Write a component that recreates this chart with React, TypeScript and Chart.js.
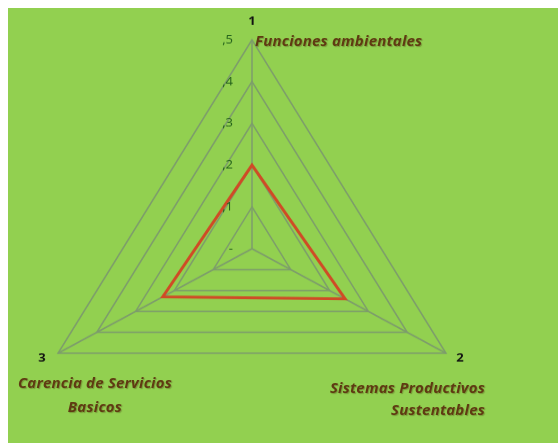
import React, { useEffect, useRef } from "react";
import { Chart, registerables } from "chart.js";

Chart.register(...registerables);

// ---- data ----
const categories = ["1", "2", "3"];
const seriesValues = [0.2, 0.24, 0.23];
const tickValues = [0, 0.1, 0.2, 0.3, 0.4, 0.5];
const tickLabels = ["-", ",1", ",2", ",3", ",4", ",5"];
const axisNameTop = ["Funciones ambientales"];
const axisNameRight = ["Sistemas Productivos", "Sustentables"];
const axisNameLeft = ["Carencia de Servicios", "Basicos"];

const BG = "#92d050";
const GRID = "#7d9c6c";
const RED = "#cf4b26";
const NAME_COLOR = "#5f3a12";

const labelsPlugin = {
  id: "customLabels",
  afterDraw(chart: any) {
    const scale = chart.scales.r;
    const ctx = chart.ctx as CanvasRenderingContext2D;
    ctx.save();
    // tick labels, left of the vertical axis
    ctx.font = "13px 'Open Sans'";
    ctx.fillStyle = "#22601a";
    ctx.textAlign = "right";
    ctx.textBaseline = "middle";
    tickValues.forEach((v, i) => {
      const d = scale.getDistanceFromCenterForValue(v);
      ctx.fillText(tickLabels[i], scale.xCenter - 19, scale.yCenter - d);
    });
    // point labels
    const offsets = [
      [0, -20],
      [14, 5],
      [-16, 5],
    ];
    ctx.font = "bold 13px 'Open Sans'";
    ctx.fillStyle = "#111111";
    ctx.textAlign = "center";
    categories.forEach((c, i) => {
      const p = scale.getPointPositionForValue(i, scale.max);
      ctx.fillText(c, p.x + offsets[i][0], p.y + offsets[i][1]);
    });
    ctx.restore();
  },
};

export default function App() {
  const ref = useRef<HTMLCanvasElement | null>(null);

  useEffect(() => {
    if (!ref.current) return;
    const chart = new Chart(ref.current, {
      type: "radar",
      data: {
        labels: categories,
        datasets: [
          {
            data: seriesValues,
            borderColor: RED,
            borderWidth: 3,
            fill: false,
            pointRadius: 0,
            pointHoverRadius: 0,
          },
        ],
      },
      options: {
        responsive: false,
        animation: false,
        layout: { padding: { left: 20, right: 82, top: 34, bottom: 0 } },
        plugins: { legend: { display: false }, tooltip: { enabled: false } },
        scales: {
          r: {
            min: 0,
            max: 0.5,
            ticks: { stepSize: 0.1, display: false, showLabelBackdrop: false },
            pointLabels: { display: false },
            grid: { color: GRID, lineWidth: 1.5 },
            angleLines: { color: GRID, lineWidth: 1.5 },
          },
        },
      },
      plugins: [labelsPlugin],
    });
    return () => chart.destroy();
  }, []);

  const nameStyle: React.CSSProperties = {
    position: "absolute",
    fontFamily: "'Open Sans', 'Liberation Sans', sans-serif",
    fontStyle: "italic",
    fontWeight: 700,
    fontSize: 15,
    letterSpacing: "0.2px",
    color: NAME_COLOR,
    textShadow: "1px 1px 1px rgba(60,30,0,0.3)",
    whiteSpace: "nowrap",
  };

  return (
    <div
      style={{
        position: "fixed",
        left: 8,
        top: 8,
        width: 550,
        height: 435,
        background: BG,
        overflow: "hidden",
      }}
    >
      <div
        style={{
          position: "absolute",
          left: 0,
          top: 0,
          width: 550,
          height: 482,
          transform: "scaleY(0.933)",
          transformOrigin: "top left",
        }}
      >
        <canvas ref={ref} width={550} height={482} style={{ display: "block" }} />
      </div>
      <div style={{ ...nameStyle, left: 247, top: 22, lineHeight: "20px" }}>
        {axisNameTop.map((t) => (
          <div key={t}>{t}</div>
        ))}
      </div>
      <div
        style={{
          ...nameStyle,
          left: -13,
          top: 362,
          width: 200,
          textAlign: "center",
          lineHeight: "24px",
        }}
      >
        {axisNameLeft.map((t) => (
          <div key={t}>{t}</div>
        ))}
      </div>
      <div
        style={{
          ...nameStyle,
          left: 225,
          top: 368,
          width: 252,
          textAlign: "right",
          lineHeight: "22px",
        }}
      >
        {axisNameRight.map((t) => (
          <div key={t}>{t}</div>
        ))}
      </div>
    </div>
  );
}
